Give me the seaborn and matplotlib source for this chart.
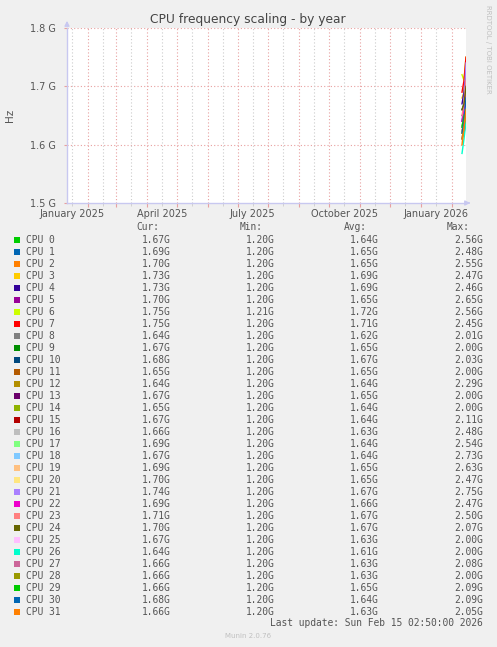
import pandas as pd
import matplotlib
matplotlib.use("Agg")
import matplotlib.pyplot as plt
import matplotlib.dates as mdates
from matplotlib.patches import Rectangle
from matplotlib.ticker import FuncFormatter, FixedLocator
import seaborn as sns

# ---- data ----
cpus = [f"CPU {i}" for i in range(32)]
days = ["2026-02-11", "2026-02-13", "2026-02-15"]

first = [1.63, 1.64, 1.62, 1.68, 1.67, 1.65, 1.72, 1.69, 1.61, 1.63, 1.66, 1.62,
         1.62, 1.64, 1.63, 1.62, 1.61, 1.62, 1.63, 1.62, 1.63, 1.64, 1.64, 1.65,
         1.66, 1.61, 1.585, 1.61, 1.61, 1.63, 1.62, 1.60]
mid = [1.64, 1.66, 1.65, 1.69, 1.69, 1.65, 1.71, 1.71, 1.62, 1.65, 1.67, 1.64,
       1.64, 1.65, 1.64, 1.64, 1.63, 1.64, 1.64, 1.65, 1.65, 1.67, 1.66, 1.67,
       1.67, 1.63, 1.61, 1.63, 1.63, 1.65, 1.64, 1.63]
last = [1.67, 1.69, 1.70, 1.73, 1.73, 1.70, 1.75, 1.75, 1.64, 1.67, 1.68, 1.65,
        1.64, 1.67, 1.65, 1.67, 1.66, 1.69, 1.67, 1.69, 1.70, 1.74, 1.69, 1.71,
        1.70, 1.67, 1.64, 1.66, 1.66, 1.66, 1.68, 1.66]

# legend statistics (GHz)
cur = [1.67, 1.69, 1.70, 1.73, 1.73, 1.70, 1.75, 1.75, 1.64, 1.67, 1.68, 1.65,
       1.64, 1.67, 1.65, 1.67, 1.66, 1.69, 1.67, 1.69, 1.70, 1.74, 1.69, 1.71,
       1.70, 1.67, 1.64, 1.66, 1.66, 1.66, 1.68, 1.66]
mins = [1.20, 1.20, 1.20, 1.20, 1.20, 1.20, 1.21, 1.20, 1.20, 1.20, 1.20, 1.20,
        1.20, 1.20, 1.20, 1.20, 1.20, 1.20, 1.20, 1.20, 1.20, 1.20, 1.20, 1.20,
        1.20, 1.20, 1.20, 1.20, 1.20, 1.20, 1.20, 1.20]
avgs = [1.64, 1.65, 1.65, 1.69, 1.69, 1.65, 1.72, 1.71, 1.62, 1.65, 1.67, 1.65,
        1.64, 1.65, 1.64, 1.64, 1.63, 1.64, 1.64, 1.65, 1.65, 1.67, 1.66, 1.67,
        1.67, 1.63, 1.61, 1.63, 1.63, 1.65, 1.64, 1.63]
maxs = [2.56, 2.48, 2.55, 2.47, 2.46, 2.65, 2.56, 2.45, 2.01, 2.00, 2.03, 2.00,
        2.29, 2.00, 2.00, 2.11, 2.48, 2.54, 2.73, 2.63, 2.47, 2.75, 2.47, 2.50,
        2.07, 2.00, 2.00, 2.08, 2.00, 2.09, 2.09, 2.05]

colors = ["#00CC00", "#0066B3", "#FF8000", "#FFCC00", "#330099", "#990099",
          "#CCFF00", "#FF0000", "#808080", "#008F00", "#00487D", "#B35A00",
          "#B38F00", "#6B006B", "#8FB300", "#B30000", "#BEBEBE", "#80FF80",
          "#80C9FF", "#FFC080", "#FFE680", "#AA80FF", "#EE00CC", "#FF8080",
          "#666600", "#FFBFFF", "#00FFCC", "#CC6699", "#999900", "#00CC00",
          "#0066B3", "#FF8000"]

rows = []
for i, c in enumerate(cpus):
    for d, v in zip(days, (first[i], mid[i], last[i])):
        rows.append({"cpu": c, "day": pd.Timestamp(d), "hz": v * 1e9})
df = pd.DataFrame(rows)

# ---- figure ----
W, H = 497, 647
fig = plt.figure(figsize=(W / 100, H / 100), dpi=100, facecolor="#F0F0F0")


def fx(x):
    return x / W


def fy(y):
    return 1 - y / H


L, R, T, B = 67, 466, 28, 203
ax = fig.add_axes([fx(L), fy(B), fx(R) - fx(L), fy(T) - fy(B)])
ax.set_facecolor("white")

sns.lineplot(data=df, x="day", y="hz", hue="cpu", palette=colors,
             linewidth=1, legend=False, estimator=None, ax=ax)

ax.set_xlim(pd.Timestamp("2025-01-11"), pd.Timestamp("2026-02-15"))
ax.set_ylim(1.5e9, 1.8e9)
ax.set_xlabel("")
ax.set_ylabel("")

grid_red = "#E8A0A0"
grid_grey = "#CCCCCC"
axis_col = "#C8C8F0"
txt = "#555555"

# y axis
ax.yaxis.set_major_locator(FixedLocator([1.5e9, 1.6e9, 1.7e9, 1.8e9]))
ax.yaxis.set_major_formatter(FuncFormatter(lambda v, p: f"{v / 1e9:.1f} G"))
ax.tick_params(axis="y", colors=grid_red, labelcolor=txt, labelsize=7,
               length=2, pad=6)
for yv in [1.6e9, 1.7e9, 1.8e9]:
    ax.axhline(yv, color=grid_red, lw=0.8, ls=(0, (1, 2)), zorder=0)

# x axis: month starts (red), mid-month (grey), labels every 3 months
ax.xaxis.set_major_locator(mdates.MonthLocator(bymonthday=1))
ax.xaxis.set_major_formatter(FuncFormatter(lambda v, p: ""))
ax.xaxis.set_minor_locator(mdates.MonthLocator(bymonthday=16))


def minor_label(v, p):
    d = mdates.num2date(v)
    return d.strftime("%B %Y") if d.month in (1, 4, 7, 10) else ""


ax.xaxis.set_minor_formatter(FuncFormatter(minor_label))
ax.tick_params(axis="x", which="major", colors=grid_red, length=3)
ax.tick_params(axis="x", which="minor", colors=grid_grey, labelcolor=txt,
               labelsize=7, length=2, pad=2)
ax.grid(which="major", axis="x", color=grid_red, lw=0.8, ls=(0, (1, 2)))
ax.grid(which="minor", axis="x", color=grid_grey, lw=0.8, ls=(0, (1, 2)))
ax.set_axisbelow(True)

for s in ["top", "right"]:
    ax.spines[s].set_visible(False)
for s in ["left", "bottom"]:
    ax.spines[s].set_color(axis_col)
    ax.spines[s].set_linewidth(1)

# axis arrows
ax.annotate("", xy=(0, (B - 18) / (B - T)), xytext=(0, 1.0),
            xycoords="axes fraction",
            arrowprops=dict(arrowstyle="-|>", color=axis_col, lw=1,
                            mutation_scale=7))
ax.annotate("", xy=((473 - L) / (R - L), 0), xytext=(1.0, 0),
            xycoords="axes fraction",
            arrowprops=dict(arrowstyle="-|>", color=axis_col, lw=1,
                            mutation_scale=7))

# titles and side texts
fig.text(fx(248), fy(19), "CPU frequency scaling - by year", ha="center",
         va="center", fontsize=8.8, color="#444444")
fig.text(fx(10), fy(115), "Hz", rotation=90, ha="center", va="center",
         fontsize=7.5, color=txt)
fig.text(fx(488), fy(5), "RRDTOOL / TOBI OETIKER", rotation=270, ha="center",
         va="top", fontsize=5, color="#C0C0C0")

# legend table
mono = "DejaVu Sans Mono"
fs = 6.9
heads = [("Cur:", 159), ("Min:", 263), ("Avg:", 367), ("Max:", 470)]
for h, xr in heads:
    fig.text(fx(xr), fy(227), h, ha="right", va="center", family=mono,
             fontsize=fs, color=txt)

val_x = [171, 275, 379, 483]
for i, c in enumerate(cpus):
    yy = 240 + 12 * i
    fig.patches.append(Rectangle((fx(14), fy(yy + 3)), fx(6), 6 / H,
                                 transform=fig.transFigure,
                                 facecolor=colors[i], edgecolor="none"))
    fig.text(fx(26), fy(yy), c, ha="left", va="center", family=mono,
             fontsize=fs, color=txt)
    for vals, xr in zip((cur, mins, avgs, maxs), val_x):
        fig.text(fx(xr), fy(yy), f"{vals[i]:.2f}G", ha="right", va="center",
                 family=mono, fontsize=fs, color=txt)

fig.text(fx(483), fy(623), "Last update: Sun Feb 15 02:50:00 2026",
         ha="right", va="center", family=mono, fontsize=fs, color=txt)
fig.text(fx(248), fy(636), "Munin 2.0.76", ha="center", va="center",
         fontsize=5, color="#C0C0C0")

fig.savefig("out.png", dpi=100, facecolor=fig.get_facecolor())
